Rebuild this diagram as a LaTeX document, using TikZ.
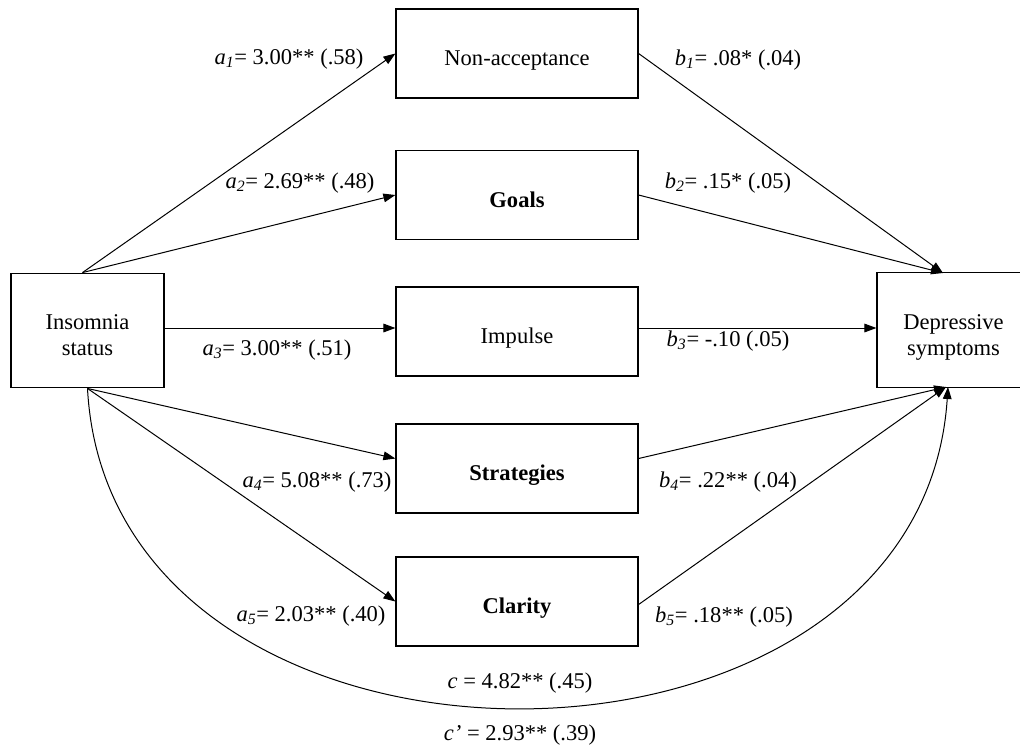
\documentclass[tikz,border=0pt]{standalone}
\usepackage{fontspec}
\setmainfont{Liberation Serif}
\usetikzlibrary{arrows.meta,calc}
\newcommand{\labtxt}[3]{\textit{#1}\textsubscript{\textit{#2}}#3}
\tikzset{
  every node/.style={font=\fontsize{16.9}{19.5}\selectfont},
  box/.style={draw, line width=0.9pt, minimum width=181.5pt, minimum height=66.75pt, inner sep=0pt, text height=18.5pt, text depth=0pt},
  endbox/.style={draw, line width=0.9pt, minimum width=114.75pt, minimum height=86pt, inner sep=0pt, align=center, text height=38pt, text depth=0pt},
  path/.style={line width=0.75pt, -{Triangle[length=9pt,width=6.5pt]}},
  lab/.style={inner sep=0pt, anchor=center}
}
\begin{document}
\begin{tikzpicture}[x=0.75pt, y=-0.75pt]
\path[use as bounding box, clip] (0,0) rectangle (1020,747);
\fill[white] (0,0) rectangle (1020,747);
% nodes
\node[endbox] (ins) at (87.5,330.5) {Insomnia\\status};
\node[endbox] (dep) at (953.5,330) {Depressive\\symptoms};
\node[box] (na)  at (517,53.5)  {Non-acceptance};
\node[box] (goa) at (517,195)   {\textbf{Goals}};
\node[box] (imp) at (517,331.5) {Impulse};
\node[box] (str) at (517,468.5) {\textbf{Strategies}};
\node[box] (cla) at (517,601.5) {\textbf{Clarity}};
% junction points
\coordinate (itop) at ($(ins.north)+(-5,0)$);
\coordinate (dtop) at (943,273);
\coordinate (dbot) at (946,387);
\coordinate (mid) at (0,328);
% a paths
\draw[path] (itop) -- (na.west);
\draw[path] (itop) -- (goa.west);
\draw[path] (mid -| ins.east) -- (mid -| imp.west);
\draw[path] (ins.south) -- ($(str.west)+(0,-10)$);
\draw[path] (ins.south) -- (cla.west);
% b paths
\draw[path] (na.east) -- (dtop);
\draw[path] (goa.east) -- (dtop);
\draw[path] (mid -| imp.east) -- (mid -| dep.west);
\draw[path] ($(str.east)+(0,-10)$) -- (dbot);
\draw[path] ($(cla.east)+(0,3)$) -- (dbot);
% c path
\draw[path] (ins.south) .. controls (110,814) and (920,814) .. ($(dbot)+(2,0)$);
% labels
\node[lab] (la1) at (289,59)  {\labtxt{a}{1}{= 3.00** (.58)}};
\node[lab] (la2) at (300,183) {\labtxt{a}{2}{= 2.69** (.48)}};
\node[lab] (la3) at (277,350) {\labtxt{a}{3}{= 3.00** (.51)}};
\node[lab] (la4) at (317,482) {\labtxt{a}{4}{= 5.08** (.73)}};
\node[lab] (la5) at (311,616) {\labtxt{a}{5}{= 2.03** (.40)}};
\node[lab] (lb1) at (738,60)  {\labtxt{b}{1}{= .08* (.04)}};
\node[lab] (lb2) at (728,183) {\labtxt{b}{2}{= .15* (.05)}};
\node[lab] (lb3) at (728,341) {\labtxt{b}{3}{= -.10 (.05)}};
\node[lab] (lb4) at (728,482) {\labtxt{b}{4}{= .22** (.04)}};
\node[lab] (lb5) at (724,617) {\labtxt{b}{5}{= .18** (.05)}};
\node[lab] (lc)  at (520,683) {\textit{c} = 4.82** (.45)};
\node[lab] (lcp) at (520,735) {\textit{c’} = 2.93** (.39)};
\end{tikzpicture}
\end{document}
